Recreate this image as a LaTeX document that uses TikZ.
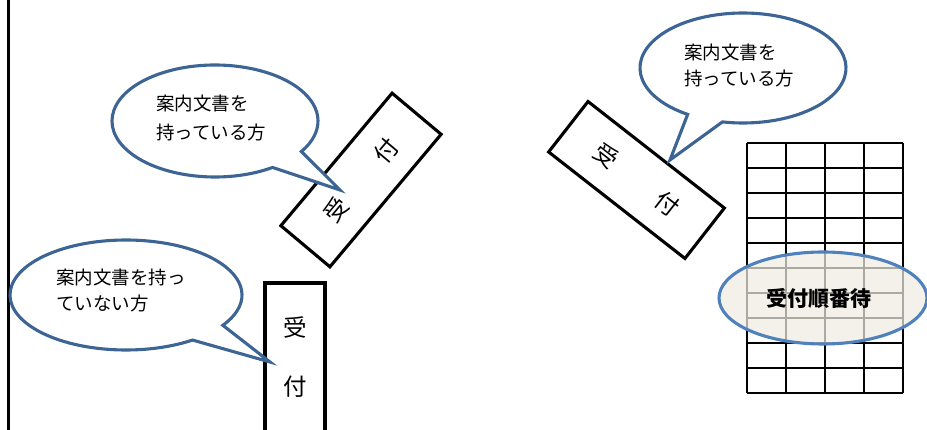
\documentclass[tikz,border=0pt]{standalone}
\usepackage{fontspec}
\setmainfont{Noto Sans CJK JP}
\definecolor{bubbleblue}{HTML}{3C6494}
\definecolor{ellblue}{HTML}{4F81BD}
\definecolor{beige}{HTML}{EEECE1}
\begin{document}
\begin{tikzpicture}[x=1pt,y=-1pt,
  bubble/.style={draw=bubbleblue, line width=3.1pt, fill=white, line join=miter},
  desk/.style={draw, line width=3.1pt, inner sep=0pt, minimum width=173pt, minimum height=64pt,
    font=\fontsize{23.5}{23.5}\selectfont},
  btext/.style={align=left, anchor=west, inner sep=0pt},
  gridline/.style={line width=2.4pt}]
\useasboundingbox (0,0) rectangle (927,430);
% left border
\draw[line width=3pt] (8.5,0) -- (8.5,430);

% grid
\foreach \x in {747,786,825,864,903} \draw[gridline] (\x,143) -- (\x,393);
\foreach \y in {143,168,...,393} \draw[gridline] (747,\y) -- (903,\y);
\draw[draw=ellblue, line width=3.1pt, fill=beige, fill opacity=0.72] (823,298) ellipse[x radius=104, y radius=46];
\node[font=\bfseries\fontsize{21}{21}\selectfont] (wait) at (819,298) {受付順番待};

% desks
\node[desk, rotate=50] (desk1) at (361,180) {受\hspace{54pt}付};
\node[desk, rotate=-38] (desk2) at (636.5,180) {受\hspace{54pt}付};
\node[draw, line width=3.4pt, minimum width=60pt, minimum height=160pt, inner sep=0pt] (desk3) at (295,363) {};
\node[font=\fontsize{23.5}{59}\selectfont, align=center] (desk3t) at (295,357.5) {受\\付};

% bubble 1
\coordinate (tip1) at (340,190);
\draw[bubble] (215,121) ++(56:103 and 56) arc[start angle=56, end angle=393, x radius=103, y radius=56] -- (tip1) -- cycle;
\node[btext, font=\fontsize{18.5}{29}\selectfont] (t1) at (156,117.5) {案内文書を\\持っている方};

% bubble 2
\coordinate (tip2) at (270,362);
\draw[bubble] (126,295) ++(55:116 and 55) arc[start angle=55, end angle=393.4, x radius=116, y radius=55] -- (tip2) -- cycle;
\node[btext, font=\fontsize{18.5}{26}\selectfont] (t2) at (56,290) {案内文書を持っ\\ていない方};

% bubble 3
\coordinate (tip3) at (670,160);
\draw[bubble] (743,68) ++(122.5:103 and 55) arc[start angle=122.5, end angle=461.5, x radius=103, y radius=55] -- (tip3) -- cycle;
\node[btext, font=\fontsize{18.5}{26}\selectfont] (t3) at (684,65) {案内文書を\\持っている方};
\end{tikzpicture}
\end{document}
